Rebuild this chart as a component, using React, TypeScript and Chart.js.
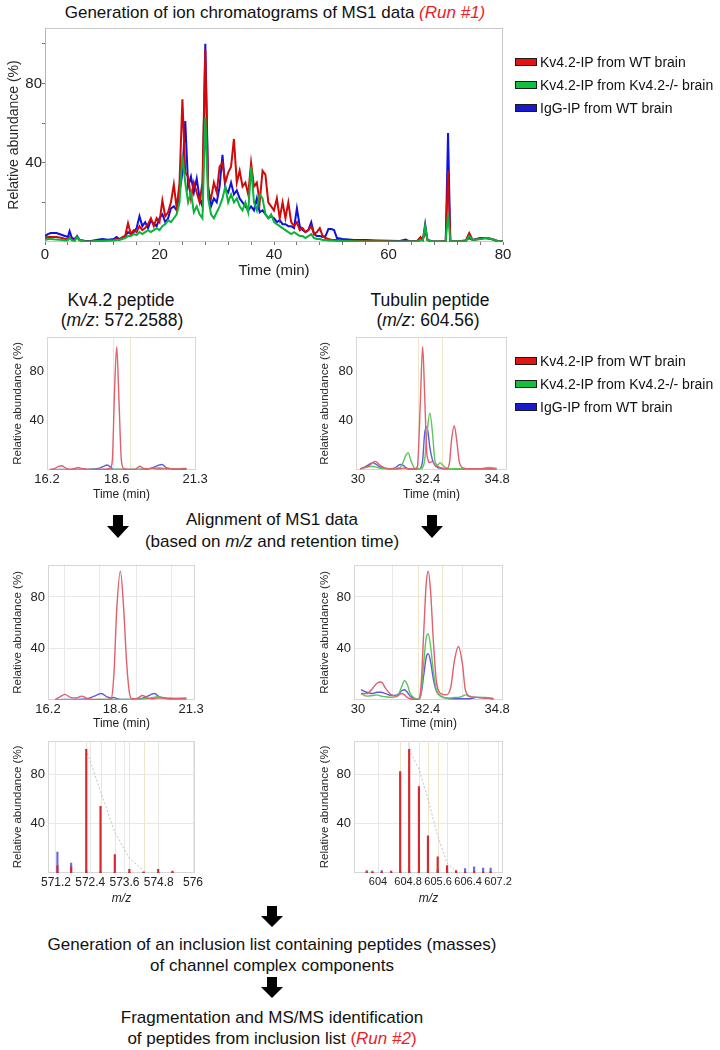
import React, { useEffect, useRef } from "react";
import { Chart, registerables } from "chart.js";

Chart.register(...registerables);

const FONT = '"Liberation Sans", Arial, Helvetica, sans-serif';
Chart.defaults.font.family = FONT;
Chart.defaults.color = "#222";

// ---------------- series names ----------------
const seriesNames = ["Kv4.2-IP from WT brain", "Kv4.2-IP from Kv4.2-/- brain", "IgG-IP from WT brain"];

// ---------------- Run #1: ion chromatograms of MS1 data ----------------
const runTime = [0, 0.5, 1, 2, 3, 3.5, 4, 4.3, 4.7, 5.2, 5.6, 6, 7, 8, 9, 10, 11, 12, 12.5, 13,
  13.5, 14, 14.5, 15, 15.5, 16, 16.5, 17, 17.5, 18, 18.5, 19, 19.5, 20, 20.5, 21, 21.5, 22, 22.5, 23,
  23.5, 24, 24.5, 25, 25.5, 26, 26.5, 27, 27.5, 28, 28.5, 29, 29.5, 30, 30.5, 31, 31.5, 32, 32.5, 33,
  33.5, 34, 34.5, 35, 35.5, 36, 36.5, 37, 37.5, 38, 38.5, 39, 39.5, 40, 40.5, 41, 41.5, 42, 42.5, 43,
  43.5, 44, 44.5, 45, 45.5, 46, 46.5, 47, 47.5, 48, 48.5, 49, 49.5, 50,
  50.5, 51, 52, 54, 56, 58, 60, 62, 63, 63.5, 64, 65, 65.6, 66, 66.4, 66.8, 67.5, 69, 70, 70.4, 70.8,
  72, 73.5, 74.1, 74.7, 76, 77, 78, 79, 80];
const runWT = [2, 2.5, 2.5, 2.5, 2, 1.5, 1.5, 2.5, 1.2, 1, 2.5, 1, 0.3, 0.2, 0.5, 0.8, 1, 1, 1.5, 1.2,
  2.5, 3, 9.5, 4, 6, 5, 8, 6, 7, 9, 12, 8, 12, 10, 21, 13, 15, 20, 29, 17,
  30, 72, 35, 33, 22, 30, 25, 20, 30, 97, 25, 22, 30, 25, 38, 40, 30, 35, 38, 52,
  30, 36, 28, 30, 24, 40, 28, 30, 20, 36, 34, 20, 18, 16, 22, 12, 20, 12, 20, 10,
  8, 10, 6, 7, 5, 6, 8, 4, 5, 7, 3, 2, 1.5, 1.2,
  1, 1, 0.8, 0.6, 0.5, 0.5, 0.4, 0.3, 0.3, 0.3, 0.3, 0.5, 2.5, 1, 6, 1, 0.4, 0.3, 0.5, 36, 0.5,
  0.3, 0.8, 4.5, 1, 1.5, 2, 1.5, 0.5, 0.3];
const runKO = [1, 1.5, 1.5, 1.2, 1, 0.8, 1, 2, 0.8, 0.6, 2.5, 1, 0.3, 0.2, 0.5, 0.5, 0.6, 0.8, 1, 1,
  1.5, 2, 3, 3, 4, 3.5, 5, 4, 5, 6, 5, 6, 7, 6, 8, 9, 11, 10, 12, 14,
  20, 44, 30, 20, 25, 15, 18, 14, 12, 63, 22, 14, 12, 15, 18, 22, 28, 20, 24, 20,
  22, 18, 16, 20, 15, 38, 20, 16, 24, 22, 14, 12, 14, 10, 9, 8, 7, 6, 5, 4,
  5, 4, 3, 3, 2, 3, 4, 2, 1.5, 1.5, 1, 1, 0.8, 0.8,
  0.6, 0.5, 0.5, 0.4, 0.3, 0.3, 0.3, 0.3, 0.3, 0.3, 0.3, 0.3, 1, 0.8, 8, 1, 0.4, 0.3, 0.4, 14, 0.5,
  0.3, 0.5, 3, 1, 1.5, 2, 1.5, 0.5, 0.3];
const runIgG = [3, 4, 4.5, 4.5, 3.5, 3, 2.5, 5.5, 2, 1.5, 3, 1.2, 0.5, 0.5, 1, 1.5, 1.2, 1.5, 2.5, 1.5,
  2, 3, 5, 4, 5, 7, 13, 8, 10, 7, 11, 9, 8, 12, 14, 10, 12, 17, 18, 16,
  25, 35, 61, 28, 33, 25, 32, 22, 18, 100, 28, 18, 22, 20, 28, 44, 27, 25, 30, 24,
  26, 22, 20, 18, 16, 18, 16, 22, 15, 16, 14, 12, 13, 12, 10, 11, 9, 9, 8, 8,
  7, 17, 8, 6, 5, 6, 10, 4, 3, 3, 2.5, 3, 6.5, 6.5,
  6, 2, 1.5, 1, 1, 0.8, 0.6, 0.5, 1.2, 0.5, 0.4, 0.4, 1, 1, 9, 1, 0.4, 0.3, 0.5, 55, 0.5,
  0.3, 0.8, 2, 1, 2, 2, 1.5, 0.5, 0.3];
const runXTicks = [0, 4, 8, 12, 16, 20, 24, 28, 32, 36, 40, 44, 48, 52, 56, 60, 64, 68, 72, 76, 80];
const runXLabels = [0, 20, 40, 60, 80];
const runYTicks = [20, 40, 60, 80, 100];
const abundanceLabels = [40, 80];

// ---------------- Kv4.2 peptide XIC (m/z 572.2588) ----------------
const kvTime = [16.3, 16.45, 16.6, 16.7, 16.85, 17.0, 17.15, 17.27, 17.4, 17.6, 17.8, 18.0, 18.15, 18.27, 18.38,
  18.45, 18.52, 18.6, 18.68, 18.76, 18.85, 19.0, 19.2, 19.3, 19.4, 19.5, 19.65, 19.8, 19.95, 20.05, 20.16,
  20.3, 20.5, 20.7, 20.85, 21.0];
const kvWT = [0.5, 1, 3, 3.5, 1.5, 0.5, 1.2, 2, 1.2, 0.5, 0.4, 0.5, 0.6, 0.8, 1.5,
  8, 60, 100, 55, 8, 1, 0.5, 0.5, 1.5, 3, 1.5, 0.8, 1.5, 1, 0.8, 0.8, 1, 1, 0.8, 1, 1.2];
const kvKO = [0.3, 0.3, 0.3, 0.3, 0.3, 0.3, 0.4, 0.4, 0.4, 0.4, 0.4, 0.4, 0.5, 0.5, 0.5,
  0.5, 0.5, 0.6, 0.6, 0.6, 0.5, 0.5, 0.5, 0.5, 0.6, 0.8, 1, 1.2, 1.5, 1.8, 1.5, 1.2, 1, 1, 1.2, 1.3];
const kvIgG = [0.3, 0.3, 0.4, 0.5, 0.5, 0.5, 0.5, 0.5, 0.5, 0.5, 0.8, 1.5, 3, 4, 2.5,
  1, 0.5, 0.5, 0.5, 0.5, 0.5, 0.5, 0.5, 0.5, 0.5, 0.5, 0.8, 1.5, 3, 4, 4.5, 2, 1, 0.6, 0.6, 0.6];
const kvTicks = [16.2, 18.6, 21.3];
const kvBounds = [18.47, 19.06];

// ---------------- Tubulin peptide XIC (m/z 604.56) ----------------
const tubTime = [30.07, 30.2, 30.35, 30.5, 30.6, 30.75, 30.9, 31.1, 31.3, 31.45, 31.55, 31.65, 31.73, 31.82,
  31.95, 32.05, 32.15, 32.23, 32.3, 32.38, 32.48, 32.57, 32.65, 32.75, 32.83, 32.92, 33.05, 33.15, 33.23,
  33.32, 33.4, 33.5, 33.65, 33.9, 34.2, 34.5, 34.78];
const tubWT = [1, 2, 3, 6, 7, 4, 2, 1, 0.8, 1, 1.5, 1.2, 1, 0.8, 0.8, 3, 55, 100, 60, 12,
  6, 7, 4, 3, 2, 1.5, 1, 5, 25, 36, 25, 6, 1.5, 1, 1, 1, 1];
const tubKO = [0.8, 1.5, 2.5, 3, 2.5, 1.5, 1, 1, 1.5, 2, 6, 12, 14, 8, 1.5, 1, 1, 2, 8, 30,
  46, 30, 8, 4, 6, 4, 1.5, 1, 1, 1, 1, 1, 1, 1, 1, 2, 1.5];
const tubIgG = [1, 2, 4, 6, 5, 2.5, 1.5, 1, 2, 4.5, 4, 2, 1, 0.8, 0.8, 0.8, 1.5, 8, 30, 35,
  18, 8, 4, 2, 1.5, 1, 1, 1, 1, 0.8, 0.8, 0.8, 0.8, 1, 1, 1, 1];
const tubTicks = [30, 32.4, 34.8];
const tubBounds = [32.07, 32.9];

// ---------------- aligned MS1 data ----------------
const kvAlignTime = [16.45, 16.6, 16.8, 17.0, 17.2, 17.4, 17.6, 17.85, 18.1, 18.3, 18.45, 18.55, 18.65, 18.78,
  18.9, 19.0, 19.1, 19.2, 19.4, 19.57, 19.75, 19.9, 20.0, 20.1, 20.3, 20.55, 20.8, 21.13];
const kvAlignWT = [0.3, 2, 4.4, 2, 1.5, 3, 1.2, 0.5, 0.5, 0.5, 1, 20, 70, 100,
  70, 30, 6, 1, 1.5, 3.5, 1.5, 1, 1.2, 1.5, 1.5, 1, 1.2, 1.5];
const kvAlignKO = [0.2, 0.2, 0.3, 0.3, 0.3, 0.3, 0.3, 0.3, 0.4, 0.4, 0.4, 0.4, 0.4, 0.5,
  0.5, 0.5, 0.5, 0.5, 0.6, 0.8, 1.2, 1.8, 2.2, 2.5, 2, 1.5, 1.2, 1.2];
const kvAlignIgG = [0.2, 0.3, 0.4, 0.5, 0.5, 0.6, 1, 3, 5, 2.5, 1.5, 2, 1, 0.5,
  0.4, 0.4, 0.4, 0.5, 0.8, 1.5, 3, 4.5, 5, 3.5, 1.5, 1, 1, 1];
const kvAlignTicks = [16.2, 16.8, 18.05, 18.6, 19.37, 20.62, 21.3];
const kvAlignGrid = [16.8, 18.05, 19.37, 20.62];

const tubAlignTime = [30.1, 30.3, 30.5, 30.65, 30.8, 30.95, 31.15, 31.35, 31.5, 31.6, 31.7, 31.8, 31.95, 32.07,
  32.17, 32.27, 32.35, 32.42, 32.5, 32.6, 32.7, 32.85, 33.05, 33.2, 33.32, 33.46, 33.6, 33.7, 33.85, 34.1, 34.4, 34.67];
const tubAlignWT = [5, 5, 9, 13, 14, 9, 4, 3, 5, 4, 2, 1, 0.5, 0.5,
  10, 55, 90, 100, 85, 45, 15, 5, 4, 10, 30, 41.5, 28, 8, 3, 2, 1.5, 1];
const tubAlignKO = [5, 3, 3.5, 4, 3, 2.5, 2, 3, 10, 15, 12, 5, 1.5, 0.5,
  5, 30, 48, 51.5, 42, 22, 8, 3, 1.5, 1.5, 2, 2, 3, 4, 2.5, 2, 2, 1];
const tubAlignIgG = [8, 6, 5, 6, 6, 5, 3.5, 4, 7, 8, 6, 3, 1, 0.5,
  4, 20, 33, 36, 30, 16, 7, 3, 1.5, 1, 1, 1, 1, 1, 1, 2, 1.5, 1];
const tubAlignTicks = [30, 31.2, 32.4, 33.6, 34.8];
const tubAlignGrid = [31.2, 33.6];

// ---------------- MS1 spectra ----------------
const kvMz = [571.25, 571.73, 572.26, 572.76, 573.26, 573.77, 574.27, 574.78, 575.28];
const kvMzWT = [6, 5, 100, 54, 15, 3, 1, 3, 1.5];
const kvMzKO = [0.5, 0.5, 1, 1, 0.5, 0.5, 0.5, 0.5, 0.5];
const kvMzIgG = [17, 8, 2, 1, 0.5, 0.5, 0.5, 0.5, 0.5];
const kvEnvMz = [572.26, 572.76, 573.26, 573.77, 574.27];
const kvEnv = [100, 66, 33, 12, 2];
const kvMzTicks = [571.2, 572.4, 573.6, 574.8, 576];

const tubMz = [603.7, 603.85, 604.1, 604.35, 604.59, 604.83, 605.09, 605.33, 605.59, 605.84, 606.08, 606.32, 606.56, 606.8, 607.0];
const tubMzWT = [1, 0.5, 1, 1.5, 82, 100, 70, 30, 13, 6, 2, 1, 1.5, 1, 1];
const tubMzKO = [0.5, 0.5, 0.5, 0.5, 1, 1, 1, 1, 2.5, 1, 0.5, 0.5, 0.5, 0.5, 0.5];
const tubMzIgG = [2, 1.5, 2, 0.5, 2, 2, 2, 2, 1, 0.5, 0.5, 3.5, 5, 4, 4];
const tubIsotopes = [604.59, 604.83, 605.09, 605.33, 605.59, 605.84];
const tubEnvMz = [604.83, 605.09, 605.33, 605.59, 605.84, 606.1];
const tubEnv = [100, 84, 60, 30, 8, 1];
const tubMzTicks = [604, 604.8, 605.6, 606.4, 607.2];

// ---------------- colours ----------------
const topColors = ["#d00a0a", "#0ab33a", "#1212dc"];
const smallColors = ["#e0606c", "#5ec65e", "#5c5cd8"];
const barColors = ["#d8282c", "#3cb44b", "#6a6ae8"];
const legendColors = ["#e41414", "#12c040", "#1a1acc"];
const RED_TEXT = "#ee1c24";
const CLEAR = "rgba(0,0,0,0)";

// ---------------- helpers ----------------
function pts(xs: number[], ys: number[]) {
  return xs.map((x, i) => ({ x, y: ys[i] }));
}

function lineSet(i: number, xs: number[], ys: number[], colors: string[], width: number, order: number, smooth: boolean) {
  return {
    label: seriesNames[i],
    data: pts(xs, ys),
    borderColor: colors[i],
    backgroundColor: colors[i],
    borderWidth: width,
    pointRadius: 0,
    fill: false,
    tension: 0,
    cubicInterpolationMode: smooth ? "monotone" : "default",
    order,
  };
}

function barSet(i: number, xs: number[], ys: number[], order: number) {
  return {
    type: "bar",
    label: seriesNames[i],
    data: pts(xs, ys),
    backgroundColor: barColors[i],
    borderWidth: 0,
    barThickness: 1.5,
    maxBarThickness: 1.5,
    grouped: false,
    order,
  };
}

function envSet(xs: number[], ys: number[]) {
  return {
    type: "line",
    label: "theoretical",
    data: pts(xs, ys),
    borderColor: "rgba(175,175,175,0.75)",
    borderWidth: 1,
    borderDash: [2, 2],
    pointRadius: 0,
    fill: false,
    order: 9,
  };
}

const framePlugin = {
  id: "frameBox",
  beforeDatasetsDraw(chart: any, _a: any, o: any) {
    const { ctx, chartArea: a } = chart;
    const l = Math.round(a.left) + 0.5;
    const t = Math.round(a.top) + 0.5;
    const r = Math.round(a.right) - 0.5;
    const b = Math.round(a.bottom) - 0.5;
    ctx.save();
    ctx.lineWidth = 1;
    ctx.strokeStyle = o.color;
    ctx.strokeRect(l, t, r - l, b - t);
    if (o.leftColor) {
      ctx.strokeStyle = o.leftColor;
      ctx.beginPath();
      ctx.moveTo(l, t);
      ctx.lineTo(l, b);
      ctx.stroke();
    }
    ctx.restore();
  },
};

const markerPlugin = {
  id: "markerLines",
  beforeDatasetsDraw(chart: any, _a: any, o: any) {
    const vals: number[] = o.values || [];
    if (!vals.length) return;
    const { ctx, chartArea: a, scales } = chart;
    ctx.save();
    ctx.strokeStyle = o.color;
    ctx.lineWidth = 1;
    vals.forEach((v) => {
      const x = Math.round(scales.x.getPixelForValue(v)) + 0.5;
      ctx.beginPath();
      ctx.moveTo(x, a.top);
      ctx.lineTo(x, a.bottom);
      ctx.stroke();
    });
    ctx.restore();
  },
};

type Spec = {
  kind: string;
  boxX: number; boxY: number; boxW: number;
  frame: { L: number; T: number; R: number; B: number };
  xMin: number; xMax: number; yMax: number;
  xTicks: number[]; xLabels: number[]; xGrid: number[];
  yTicks: number[]; yLabels: number[]; yGrid: number[];
  markers: number[];
  tickSize: number; xTickSize?: number; tickLen: number; xPad: number; yPad: number;
  xTitle: string; xTitleItalic?: boolean; xTitleSize: number; xTitleY: number;
  yTitleSize: number; yTitleX: number;
  frameColor: string; leftColor?: string; gridColor: string; markerColor: string;
  datasets: () => any[];
};

function boxHeight(s: Spec) {
  return Math.round(s.xTitleY + s.xTitleSize * 0.6 - s.boxY);
}

function makeConfig(s: Spec): any {
  const h = boxHeight(s);
  const padTop = s.frame.T - s.boxY;
  const padRight = s.boxX + s.boxW - s.frame.R;
  const padLeft = s.yTitleX - s.boxX - s.yTitleSize * 0.6;
  const yW = s.frame.L - s.boxX - padLeft;
  const xH = s.boxY + h - s.frame.B;
  return {
    type: s.kind,
    data: { datasets: s.datasets() },
    options: {
      responsive: false,
      animation: false,
      events: [],
      layout: { padding: { left: padLeft, top: padTop, right: padRight, bottom: 0 } },
      plugins: {
        legend: { display: false },
        tooltip: { enabled: false },
        frameBox: { color: s.frameColor, leftColor: s.leftColor },
        markerLines: { values: s.markers, color: s.markerColor },
      },
      scales: {
        x: {
          type: "linear",
          min: s.xMin,
          max: s.xMax,
          offset: false,
          afterBuildTicks: (sc: any) => {
            sc.ticks = s.xTicks.map((v) => ({ value: v }));
          },
          afterFit: (sc: any) => {
            sc.height = xH;
          },
          border: { display: false },
          grid: {
            display: true,
            offset: false,
            drawOnChartArea: true,
            drawTicks: s.tickLen > 0,
            tickLength: s.tickLen,
            tickColor: "#777",
            lineWidth: 1,
            color: (c: any) => (c.tick && s.xGrid.includes(c.tick.value) ? s.gridColor : CLEAR),
          },
          ticks: {
            autoSkip: false,
            maxRotation: 0,
            minRotation: 0,
            padding: s.xPad,
            font: { size: s.xTickSize || s.tickSize },
            color: "#222",
            callback: (v: any) => (s.xLabels.includes(v) ? String(v) : ""),
          },
          title: {
            display: true,
            text: s.xTitle,
            padding: 0,
            color: "#222",
            font: { size: s.xTitleSize, style: s.xTitleItalic ? "italic" : "normal" },
          },
        },
        y: {
          type: "linear",
          min: 0,
          max: s.yMax,
          afterBuildTicks: (sc: any) => {
            sc.ticks = s.yTicks.map((v) => ({ value: v }));
          },
          afterFit: (sc: any) => {
            sc.width = yW;
          },
          border: { display: false },
          grid: {
            display: true,
            drawOnChartArea: true,
            drawTicks: s.tickLen > 0,
            tickLength: s.tickLen,
            tickColor: "#777",
            lineWidth: 1,
            color: (c: any) => (c.tick && s.yGrid.includes(c.tick.value) ? s.gridColor : CLEAR),
          },
          ticks: {
            autoSkip: false,
            padding: s.yPad,
            font: { size: s.tickSize },
            color: "#222",
            callback: (v: any) => (s.yLabels.includes(v) ? String(v) : ""),
          },
          title: {
            display: true,
            text: "Relative abundance (%)",
            padding: 0,
            color: "#2a2a2a",
            font: { size: s.yTitleSize },
          },
        },
      },
    },
    plugins: [framePlugin, markerPlugin],
  };
}

// ---------------- chart specs ----------------
const smallBase = {
  tickSize: 13, tickLen: 0, xPad: 2, yPad: 3,
  xTitleSize: 12, yTitleSize: 11.5,
  frameColor: "#d6d6d6", gridColor: "#e8e8e8", markerColor: "#eee6cc",
};

const runSpec: Spec = {
  kind: "line",
  boxX: 0, boxY: 16, boxW: 520,
  frame: { L: 45, T: 28, R: 503, B: 242 },
  xMin: 0, xMax: 80, yMax: 108,
  xTicks: runXTicks, xLabels: runXLabels, xGrid: [],
  yTicks: runYTicks, yLabels: abundanceLabels, yGrid: [],
  markers: [],
  tickSize: 15, tickLen: 3, xPad: 1, yPad: 0,
  xTitle: "Time (min)", xTitleSize: 15, xTitleY: 271,
  yTitleSize: 14, yTitleX: 14,
  frameColor: "#c8c8c8", leftColor: "#e6a0a0", gridColor: CLEAR, markerColor: CLEAR,
  datasets: () => [
    lineSet(0, runTime, runWT, topColors, 2, 1, false),
    lineSet(1, runTime, runKO, topColors, 2, 0, false),
    lineSet(2, runTime, runIgG, topColors, 2, 2, false),
  ],
};

const kvSpec: Spec = {
  ...smallBase,
  kind: "line",
  boxX: 0, boxY: 326, boxW: 215,
  frame: { L: 47, T: 335, R: 196, B: 470 },
  xMin: 16.2, xMax: 21.33, yMax: 108,
  xTicks: kvTicks, xLabels: kvTicks, xGrid: [],
  yTicks: abundanceLabels, yLabels: abundanceLabels, yGrid: [],
  markers: kvBounds,
  xTitle: "Time (min)", xTitleY: 495, yTitleX: 18,
  datasets: () => [
    lineSet(0, kvTime, kvWT, smallColors, 1.4, 0, true),
    lineSet(1, kvTime, kvKO, smallColors, 1.4, 1, true),
    lineSet(2, kvTime, kvIgG, smallColors, 1.4, 2, true),
  ],
};

const tubSpec: Spec = {
  ...smallBase,
  kind: "line",
  boxX: 300, boxY: 326, boxW: 222,
  frame: { L: 356, T: 335, R: 507, B: 470 },
  xMin: 29.93, xMax: 35.14, yMax: 108,
  xTicks: tubTicks, xLabels: tubTicks, xGrid: [],
  yTicks: abundanceLabels, yLabels: abundanceLabels, yGrid: [],
  markers: tubBounds,
  xTitle: "Time (min)", xTitleY: 495, yTitleX: 325,
  datasets: () => [
    lineSet(0, tubTime, tubWT, smallColors, 1.4, 0, true),
    lineSet(1, tubTime, tubKO, smallColors, 1.4, 1, true),
    lineSet(2, tubTime, tubIgG, smallColors, 1.4, 2, true),
  ],
};

const kvAlignSpec: Spec = {
  ...smallBase,
  kind: "line",
  boxX: 0, boxY: 554, boxW: 215,
  frame: { L: 48, T: 563, R: 195, B: 700 },
  xMin: 16.2, xMax: 21.44, yMax: 105,
  xTicks: kvAlignTicks, xLabels: kvTicks, xGrid: kvAlignGrid,
  yTicks: abundanceLabels, yLabels: abundanceLabels, yGrid: abundanceLabels,
  markers: [],
  xTitle: "Time (min)", xTitleY: 724, yTitleX: 18,
  datasets: () => [
    lineSet(0, kvAlignTime, kvAlignWT, smallColors, 1.4, 0, true),
    lineSet(1, kvAlignTime, kvAlignKO, smallColors, 1.4, 1, true),
    lineSet(2, kvAlignTime, kvAlignIgG, smallColors, 1.4, 2, true),
  ],
};

const tubAlignSpec: Spec = {
  ...smallBase,
  kind: "line",
  boxX: 300, boxY: 554, boxW: 225,
  frame: { L: 354, T: 563, R: 503, B: 700 },
  xMin: 29.86, xMax: 35.0, yMax: 105,
  xTicks: tubAlignTicks, xLabels: tubTicks, xGrid: tubAlignGrid,
  yTicks: abundanceLabels, yLabels: abundanceLabels, yGrid: abundanceLabels,
  markers: tubBounds,
  xTitle: "Time (min)", xTitleY: 724, yTitleX: 325,
  datasets: () => [
    lineSet(0, tubAlignTime, tubAlignWT, smallColors, 1.4, 0, true),
    lineSet(1, tubAlignTime, tubAlignKO, smallColors, 1.4, 1, true),
    lineSet(2, tubAlignTime, tubAlignIgG, smallColors, 1.4, 2, true),
  ],
};

const kvMzSpec: Spec = {
  ...smallBase,
  kind: "bar",
  boxX: 0, boxY: 730, boxW: 215,
  frame: { L: 48, T: 739, R: 195, B: 873 },
  xMin: 570.92, xMax: 576.07, yMax: 107,
  xTicks: kvMzTicks, xLabels: kvMzTicks, xGrid: kvMzTicks,
  yTicks: abundanceLabels, yLabels: abundanceLabels, yGrid: abundanceLabels,
  markers: kvEnvMz,
  xTickSize: 12,
  xTitle: "m/z", xTitleItalic: true, xTitleY: 899, yTitleX: 18,
  datasets: () => [
    barSet(0, kvMz, kvMzWT, 0),
    barSet(1, kvMz, kvMzKO, 2),
    barSet(2, kvMz, kvMzIgG, 1),
    envSet(kvEnvMz, kvEnv),
  ],
};

const tubMzSpec: Spec = {
  ...smallBase,
  kind: "bar",
  boxX: 300, boxY: 730, boxW: 225,
  frame: { L: 354, T: 739, R: 503, B: 873 },
  xMin: 603.36, xMax: 607.33, yMax: 107,
  xTicks: tubMzTicks, xLabels: tubMzTicks, xGrid: tubMzTicks,
  yTicks: abundanceLabels, yLabels: abundanceLabels, yGrid: abundanceLabels,
  markers: tubIsotopes,
  xTickSize: 11,
  xTitle: "m/z", xTitleItalic: true, xTitleY: 899, yTitleX: 325,
  datasets: () => [
    barSet(0, tubMz, tubMzWT, 0),
    barSet(1, tubMz, tubMzKO, 2),
    barSet(2, tubMz, tubMzIgG, 1),
    envSet(tubEnvMz, tubEnv),
  ],
};

// ---------------- components ----------------
function ChartCanvas({ spec }: { spec: Spec }) {
  const ref = useRef<HTMLCanvasElement | null>(null);
  const h = boxHeight(spec);
  useEffect(() => {
    if (!ref.current) return;
    const chart = new Chart(ref.current, makeConfig(spec));
    return () => chart.destroy();
  }, [spec]);
  return (
    <canvas
      ref={ref}
      width={spec.boxW}
      height={h}
      style={{ position: "absolute", left: spec.boxX, top: spec.boxY, width: spec.boxW, height: h }}
    />
  );
}

function TextLine({ cx, cy, size, children }: { cx: number; cy: number; size: number; children: any }) {
  const lh = Math.round(size * 1.25);
  return (
    <div
      style={{
        position: "absolute",
        left: cx - 300,
        width: 600,
        top: cy - lh / 2,
        height: lh,
        lineHeight: lh + "px",
        fontSize: size,
        textAlign: "center",
        whiteSpace: "nowrap",
        color: "#111",
      }}
    >
      {children}
    </div>
  );
}

function Legend({ cy }: { cy: number }) {
  return (
    <>
      {seriesNames.map((name, i) => (
        <React.Fragment key={name}>
          <div
            style={{
              position: "absolute",
              left: 515,
              top: cy + i * 23 - 4,
              width: 20,
              height: 6,
              border: "1px solid #1a1a1a",
              background: legendColors[i],
            }}
          />
          <div
            style={{
              position: "absolute",
              left: 540,
              top: cy + i * 23 - 9,
              height: 18,
              lineHeight: "18px",
              fontSize: 14,
              whiteSpace: "nowrap",
              color: "#111",
            }}
          >
            {name}
          </div>
        </React.Fragment>
      ))}
    </>
  );
}

function Arrow({ cx, top, h }: { cx: number; top: number; h: number }) {
  const w = 22;
  const shaftH = Math.round(h * 0.48);
  const p = `6,0 16,0 16,${shaftH} ${w},${shaftH} ${w / 2},${h} 0,${shaftH} 6,${shaftH}`;
  return (
    <svg width={w} height={h} style={{ position: "absolute", left: cx - w / 2, top }}>
      <polygon points={p} fill="#000" />
    </svg>
  );
}

export default function App() {
  return (
    <div
      style={{
        position: "absolute",
        left: 0,
        top: 0,
        width: 720,
        height: 1050,
        overflow: "hidden",
        background: "#fff",
        fontFamily: FONT,
        color: "#111",
      }}
    >
      <TextLine cx={275} cy={12} size={17}>
        Generation of ion chromatograms of MS1 data{" "}
        <span style={{ color: RED_TEXT, fontStyle: "italic" }}>(Run #1)</span>
      </TextLine>
      <ChartCanvas spec={runSpec} />
      <Legend cy={62} />

      <TextLine cx={121} cy={300} size={17.5}>Kv4.2 peptide</TextLine>
      <TextLine cx={122} cy={320} size={17.5}>
        (<i>m/z</i>: 572.2588)
      </TextLine>
      <TextLine cx={430} cy={300} size={17.5}>Tubulin peptide</TextLine>
      <TextLine cx={428} cy={320} size={17.5}>
        (<i>m/z</i>: 604.56)
      </TextLine>
      <ChartCanvas spec={kvSpec} />
      <ChartCanvas spec={tubSpec} />
      <Legend cy={361} />

      <Arrow cx={118} top={515} h={23} />
      <Arrow cx={432} top={515} h={23} />
      <TextLine cx={272} cy={519} size={17}>Alignment of MS1 data</TextLine>
      <TextLine cx={272} cy={541} size={17}>
        (based on <i>m/z</i> and retention time)
      </TextLine>

      <ChartCanvas spec={kvAlignSpec} />
      <ChartCanvas spec={tubAlignSpec} />
      <ChartCanvas spec={kvMzSpec} />
      <ChartCanvas spec={tubMzSpec} />

      <Arrow cx={272} top={906} h={21} />
      <TextLine cx={272} cy={944} size={17}>
        Generation of an inclusion list containing peptides (masses)
      </TextLine>
      <TextLine cx={272} cy={965} size={17}>of channel complex components</TextLine>
      <Arrow cx={272} top={977} h={21} />
      <TextLine cx={272} cy={1017} size={17}>Fragmentation and MS/MS identification</TextLine>
      <TextLine cx={272} cy={1038} size={17}>
        of peptides from inclusion list{" "}
        <span style={{ color: RED_TEXT }}>
          (<i>Run #2</i>)
        </span>
      </TextLine>
    </div>
  );
}
